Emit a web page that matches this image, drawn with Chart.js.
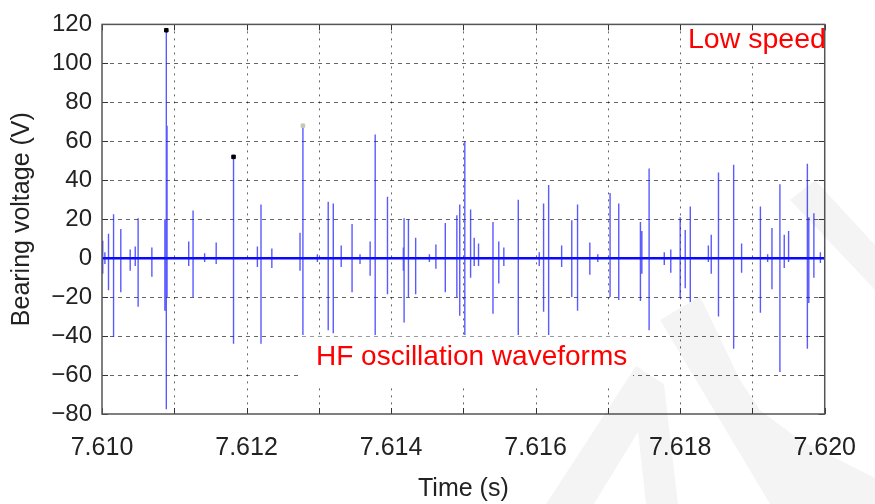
<!DOCTYPE html>
<html>
<head>
<meta charset="utf-8">
<script src="https://cdn.jsdelivr.net/npm/chart.js@4/dist/chart.umd.min.js"></script>
<style>
  html, body { margin: 0; padding: 0; background: #fff; }
  #wrap { width: 875px; height: 504px; position: relative; }
</style>
</head>
<body>
<div id="wrap"><canvas id="c" width="875" height="504"></canvas></div>
<script>
// ---- data ----
const spikeTime = [7.61001, 7.61004, 7.61009, 7.61016, 7.61026, 7.61039, 7.61046, 7.61050, 7.61069, 7.61087,
  7.61089, 7.61090, 7.61120, 7.61126, 7.61142, 7.61158, 7.61182, 7.61215, 7.61220, 7.61235,
  7.61274, 7.61278, 7.61298, 7.61313, 7.61320, 7.61331, 7.61346, 7.61357, 7.61371, 7.61378,
  7.61395, 7.61417, 7.61418, 7.61424, 7.61434, 7.61453, 7.61462, 7.61475, 7.61491, 7.61495,
  7.61502, 7.61510, 7.61515, 7.61521, 7.61541, 7.61549, 7.61556, 7.61576, 7.61605, 7.61611,
  7.61618, 7.61636, 7.61650, 7.61658, 7.61675, 7.61686, 7.61703, 7.61715, 7.61745, 7.61747,
  7.61757, 7.61778, 7.61787, 7.61800, 7.61807, 7.61814, 7.61839, 7.61843, 7.61853, 7.61874,
  7.61885, 7.61911, 7.61921, 7.61927, 7.61938, 7.61944, 7.61950, 7.61976, 7.61978, 7.61985,
  7.61994];
const spikeHigh = [9, 3, 12.5, 22.5, 15, 4.5, 6, 20.5, 5.5, 20,
  117, 68, 8.5, 24.5, 2.5, 8, 52, 6, 27.5, 5,
  13, 67.5, 2, 29, 28, 6.5, 17.5, 2, 8.5, 63.5,
  31.5, 5.5, 20.5, 20, 10.5, 2, 7, 18, 22, 27.5,
  60, 25, 10.5, 7.5, 18.5, 8.5, 5.5, 30, 3, 28,
  37.5, 6.5, 19.5, 27.5, 8, 2, 33.5, 28, 18.5, 14,
  46, 3, 4.5, 21, 14.5, 26.5, 6.5, 12, 44, 48,
  7.5, 26.5, 2, 15.5, 38, 12, 14, 48.5, 21, 23,
  3];
const spikeLow = [-8, -3, -16.5, -40.5, -17.5, -6.5, -4, -25, -9.5, -27,
  -77.5, -20, -4, -20, -2, -3, -44, -4.5, -44, -5,
  -6.5, -39.5, -2, -37, -38.5, -4.5, -17.5, -3, -9, -39.5,
  -18.5, -6.5, -33, -20, -18.5, -2, -5.5, -17.5, -20, -29.5,
  -39.5, -10, -4, -4, -28.5, -13, -4, -39.5, -4, -27.5,
  -39.5, -4.5, -20, -27, -8.5, -2, -20, -21.5, -22, -8,
  -37, -3.5, -7.5, -20.5, -15.5, -22.5, -2, -8, -30, -46.5,
  -7.5, -28, -2, -16, -58.5, -5, -2, -46.5, -23, -10,
  -2.5];
const markerTime = [7.61089, 7.61182, 7.61278];
const markerValue = [117, 52, 68];
const markerColor = ['#000000', '#000000', '#c8c8b0'];
const xMin = 7.610, xMax = 7.620, xStep = 0.001;
const yMin = -80, yMax = 120, yStep = 20;
const xTitle = 'Time (s)';
const yTitle = 'Bearing voltage (V)';
const noteTop = 'Low speed';
const noteBottom = 'HF oscillation waveforms';

// ---- build the line table ----
const wave = [{x: xMin, y: 0}];
for (let i = 0; i < spikeTime.length; i++) {
  const t = spikeTime[i];
  wave.push({x: t, y: 0}, {x: t, y: spikeHigh[i]}, {x: t, y: spikeLow[i]}, {x: t, y: 0});
}
wave.push({x: xMax, y: 0});
const baseline = [{x: xMin, y: 0}, {x: xMax, y: 0}];
const markers = markerTime.map((t, i) => ({x: t, y: markerValue[i]}));

const FONT = '"Liberation Sans", Arial, sans-serif';

const decor = {
  id: 'decor',
  beforeDatasetsDraw(chart) {
    const ctx = chart.ctx;
    const xs = chart.scales.x, ys = chart.scales.y;
    const a = chart.chartArea;
    ctx.save();
    // dashed grid
    ctx.strokeStyle = 'rgba(0,0,0,0.6)';
    ctx.lineWidth = 1;
    ctx.setLineDash([2, 5]);
    ctx.beginPath();
    xs.ticks.forEach(tk => {
      const px = Math.round(xs.getPixelForValue(tk.value)) + 0.5;
      if (px < a.left + 2 || px > a.right - 2) return;
      ctx.moveTo(px, a.top); ctx.lineTo(px, a.bottom);
    });
    ctx.stroke();
    ctx.setLineDash([4, 4]);
    ctx.beginPath();
    ys.ticks.forEach(tk => {
      const py = Math.round(ys.getPixelForValue(tk.value)) + 0.5;
      if (py < a.top + 2 || py > a.bottom - 2) return;
      ctx.moveTo(a.left, py); ctx.lineTo(a.right, py);
    });
    ctx.stroke();
    ctx.setLineDash([]);
    // white text boxes that hide grid lines (as in reference)
    ctx.fillStyle = '#ffffff';
    ctx.fillRect(300, ys.getPixelForValue(-40.3), 333, 50);
    ctx.fillRect(688, a.top + 2, 142, 35);
    // inward tick marks
    ctx.strokeStyle = '#333';
    ctx.lineWidth = 1;
    ctx.beginPath();
    xs.ticks.forEach(tk => {
      const px = Math.round(xs.getPixelForValue(tk.value)) + 0.5;
      ctx.moveTo(px, a.bottom); ctx.lineTo(px, a.bottom - 6);
      ctx.moveTo(px, a.top); ctx.lineTo(px, a.top + 6);
    });
    ys.ticks.forEach(tk => {
      const py = Math.round(ys.getPixelForValue(tk.value)) + 0.5;
      ctx.moveTo(a.left, py); ctx.lineTo(a.left + 6, py);
      ctx.moveTo(a.right, py); ctx.lineTo(a.right - 6, py);
    });
    ctx.stroke();
    ctx.restore();
  },
  afterDraw(chart) {
    const ctx = chart.ctx;
    const a = chart.chartArea;
    ctx.save();
    // frame
    ctx.strokeStyle = '#555';
    ctx.lineWidth = 1.5;
    ctx.strokeRect(a.left, a.top, a.right - a.left, a.bottom - a.top);
    // notes
    ctx.fillStyle = '#ff0000';
    ctx.textBaseline = 'alphabetic';
    ctx.font = '28.5px ' + FONT;
    ctx.textAlign = 'left';
    ctx.fillText(noteTop, 688, 48);
    ctx.font = '28px ' + FONT;
    ctx.fillText(noteBottom, 316, 365);
    // faint watermark shapes
    ctx.fillStyle = 'rgba(0,0,0,0.045)';
    const polys = [
      [[546,504],[636,366],[664,384],[678,504],[646,504],[638,432],[594,504]],
      [[660,320],[700,296],[740,380],[760,410],[800,440],[875,478],[875,504],[770,504]],
      [[790,200],[815,180],[875,245],[875,290]]
    ];
    polys.forEach(p => {
      ctx.beginPath();
      ctx.moveTo(p[0][0], p[0][1]);
      for (let i = 1; i < p.length; i++) ctx.lineTo(p[i][0], p[i][1]);
      ctx.closePath();
      ctx.fill();
    });
    ctx.restore();
  }
};

new Chart(document.getElementById('c'), {
  type: 'line',
  data: {
    datasets: [
      {
        label: 'baseline',
        data: baseline,
        borderColor: '#0000ff',
        borderWidth: 2.5,
        pointRadius: 0,
        order: 2
      },
      {
        label: 'Bearing voltage',
        data: wave,
        borderColor: 'rgba(20,20,255,0.7)',
        borderWidth: 1.4,
        pointRadius: 0,
        tension: 0,
        order: 1
      },
      {
        type: 'scatter',
        label: 'markers',
        data: markers,
        pointStyle: 'rect',
        pointRadius: 2.5,
        backgroundColor: markerColor,
        borderColor: markerColor,
        order: 0
      }
    ]
  },
  options: {
    responsive: false,
    animation: false,
    devicePixelRatio: 1,
    layout: { padding: { top: 20, right: 42, left: 0, bottom: 0 } },
    plugins: { legend: { display: false }, tooltip: { enabled: false } },
    scales: {
      x: {
        type: 'linear',
        min: xMin, max: xMax,
        afterFit(s) { s.height = 90; },
        ticks: {
          stepSize: xStep,
          autoSkip: false,
          maxRotation: 0,
          padding: 19,
          color: '#222',
          font: { family: FONT, size: 25 },
          callback(v, i) { return i % 2 === 0 ? Number(v).toFixed(3) : ''; }
        },
        grid: { display: false, drawTicks: false, tickLength: 0 },
        border: { display: false },
        title: {
          display: true, text: xTitle, color: '#222',
          font: { family: FONT, size: 25, lineHeight: 1.2 },
          padding: { top: 0, bottom: 0 }
        }
      },
      y: {
        type: 'linear',
        min: yMin, max: yMax,
        afterFit(s) { s.width = 102; },
        ticks: {
          stepSize: yStep,
          padding: 10,
          color: '#222',
          font: { family: FONT, size: 24 },
          callback(v) { return v < 0 ? '\u2212' + Math.abs(v) : String(v); }
        },
        grid: { display: false, drawTicks: false, tickLength: 0 },
        border: { display: false },
        title: {
          display: true, text: yTitle, color: '#222',
          font: { family: FONT, size: 25, lineHeight: 1.2 },
          padding: { top: 7, bottom: 0 }
        }
      }
    }
  },
  plugins: [decor]
});
</script>
</body>
</html>
